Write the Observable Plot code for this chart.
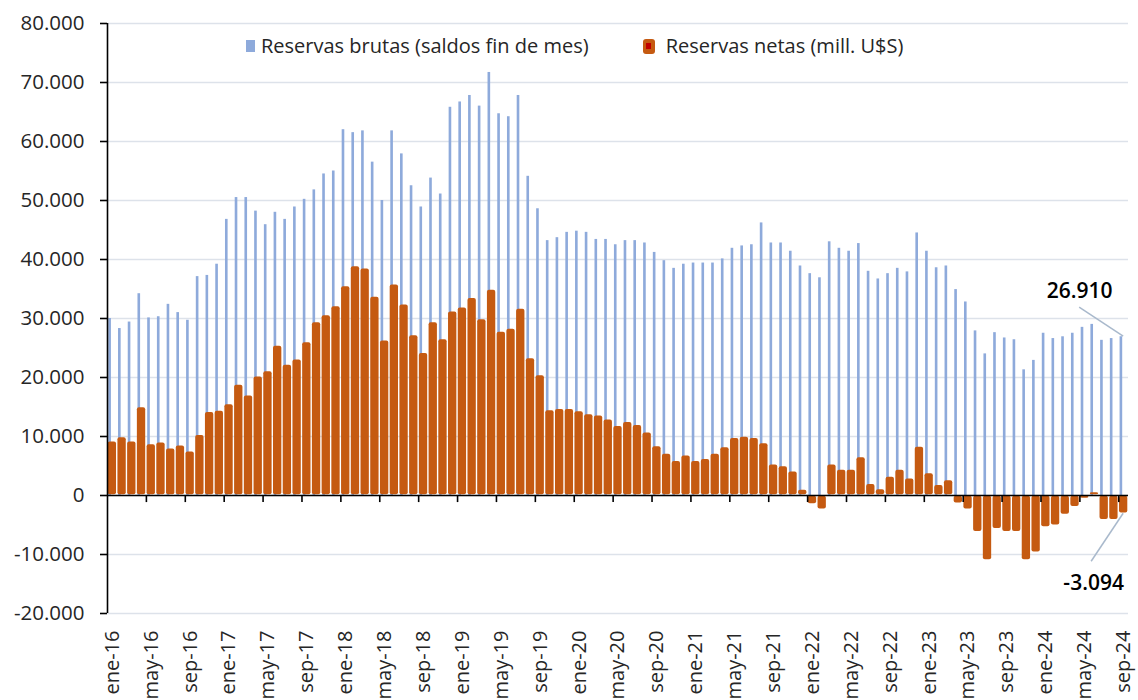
<!DOCTYPE html>
<html><head><meta charset="utf-8">
<script src="https://cdn.jsdelivr.net/npm/d3@7"></script>
<script src="https://cdn.jsdelivr.net/npm/@observablehq/plot@0.6"></script>
<style>
body{margin:0;background:#fff;font-family:"Open Sans", sans-serif;}
#wrap{position:relative;width:1138px;height:700px;overflow:hidden;}
#legend{position:absolute;top:32px;left:246px;display:flex;align-items:center;font-size:20px;color:#262626;line-height:28px;white-space:nowrap;}
.sw1{width:9px;height:12px;background:#8eaadb;margin-right:6px;}
.sw2{width:12px;height:15px;background:#c55a11;border-radius:3px;margin-right:11px;display:flex;align-items:center;justify-content:center;}
.sw2 i{display:block;width:5px;height:6px;background:#c00000;}
#l1{margin-right:54px;}
</style></head>
<body><div id="wrap"><div id="legend"><span class="sw1"></span><span id="l1"></span><span class="sw2"><i></i></span><span id="l2"></span></div></div>
<script>
const meses = ["ene","feb","mar","abr","may","jun","jul","ago","sep","oct","nov","dic"];
const anios = ["16","17","18","19","20","21","22","23","24"];
const etiquetas = anios.flatMap(a => meses.map(m => `${m}-${a}`)).slice(0, 105);
const serieBrutas = "Reservas brutas (saldos fin de mes)";
const serieNetas = "Reservas netas (mill. U$S)";
// Reservas brutas (mill. U$S)
const brutas = [
 30000,28300,29400,34200,30100,30300,32400,31000,29700,37100,37300,39200,
 46800,50500,50500,48200,45900,48000,46800,48900,50200,51800,54500,55000,
 62000,61500,61800,56500,50000,61800,57900,52500,48900,53800,51100,65800,
 66700,67800,66000,71700,64700,64200,67800,54100,48600,43200,43700,44600,
 44800,44600,43400,43400,42500,43200,43200,42800,41200,39800,38500,39200,
 39400,39400,39400,40100,41900,42300,42500,46200,42800,42800,41400,38900,
 37600,36900,43000,41900,41400,42700,38000,36700,37600,38500,37900,44500,
 41400,38600,38900,34900,32800,27900,24000,27600,26700,26400,21300,22900,
 27500,26600,26900,27500,28500,29000,26300,26600,26910
];
// Reservas netas (mill. U$S)
const netas = [
 9200,9900,9200,15000,8700,9000,8000,8500,7500,10300,14200,14400,
 15500,18800,17000,20200,21100,25400,22200,23100,26000,29400,30600,32100,
 35500,38900,38500,33700,26300,35800,32400,27200,24200,29400,26500,31200,
 31900,33500,29900,34900,27800,28300,31700,23300,20400,14500,14700,14700,
 14300,13800,13600,12900,11800,12500,12000,10700,8400,7100,5900,6800,
 5900,6200,7100,8200,9800,10000,9800,8900,5300,5000,4100,1000,
 -1500,-2400,5300,4400,4400,6500,2000,1100,3200,4400,2900,8300,
 3800,1800,2600,-1400,-2400,-6200,-11000,-5700,-6200,-6200,-11000,-9700,
 -5400,-5100,-3300,-2000,-600,600,-4200,-4200,-3094
];
const yTicks = d3.range(-20000, 80001, 10000);
const xLabels = etiquetas.filter((e, i) => i % 4 === 0);

document.getElementById("l1").textContent = serieBrutas;
document.getElementById("l2").textContent = serieNetas;

const fmt = d => (d < 0 ? "-" : "") + d3.format(",")(Math.abs(d)).replace(/,/g, ".");
const data = etiquetas.map((mes, i) => ({mes, i, bruta: brutas[i], neta: netas[i]}));
const last = [data[data.length - 1]];

const W = 1138, H = 700, mL = 107, mR = 10, mT = 23, mB = 87;
const bw = (W - mL - mR) / etiquetas.length;

const chart = Plot.plot({
  width: W, height: H, marginLeft: mL, marginRight: mR, marginTop: mT, marginBottom: mB,
  style: {fontFamily: "'Open Sans', sans-serif", fontSize: "20px", color: "#262626", background: "white", overflow: "visible"},
  x: {type: "band", domain: etiquetas, padding: 0, axis: null, label: null},
  y: {domain: [-20000, 80000], axis: null, label: null},
  marks: [
    Plot.gridY(yTicks, {stroke: "#dde2ea", strokeOpacity: 1, strokeWidth: 1.6}),
    Plot.barY(data, {x: "mes", y: "bruta", fill: "#8eaadb", insetLeft: 1.3, insetRight: 5.8}),
    Plot.barY(data, {x: "mes", y: "neta", fill: "#c55a11", inset: 0.7, rx: 2}),
    Plot.ruleY([0], {stroke: "black", strokeWidth: 1.6}),
    Plot.ruleX(data.filter(d => d.i % 4 === 0 && d.i > 0), {x: "mes", y1: 0, y2: -1200, dx: -bw / 2, stroke: "black", strokeWidth: 1.6}),
    Plot.ruleX([data[0]], {x: "mes", y1: -20000, y2: 80000, dx: -bw / 2, stroke: "black", strokeWidth: 1.6}),
    Plot.axisY(yTicks, {tickSize: 7, tickPadding: 16, tickFormat: fmt, stroke: "black", strokeWidth: 1.6, fill: "#262626", fontSize: 20.5, label: null}),
    Plot.axisX(xLabels, {anchor: "bottom", tickSize: 0, tickRotate: -90, tickPadding: 17, fontSize: 20, fill: "#262626", label: null}),
    Plot.text(last, {x: "mes", y: "bruta", text: d => fmt(d.bruta), dx: -44, dy: -45, fontSize: 21, fill: "black", fontWeight: 600}),
    Plot.text(last, {x: "mes", y: "neta", text: d => fmt(d.neta), dx: -30, dy: 70, fontSize: 21, fill: "black", fontWeight: 600})
  ]
});
document.getElementById("wrap").prepend(chart);

// leader lines for the two annotations, positioned through the chart's scales
const xs = chart.scale("x"), ys = chart.scale("y");
const cx = v => xs.apply(v) + xs.bandwidth / 2;
const svg = d3.select(chart);
const leaders = [
  {x: cx(last[0].mes), y: ys.apply(last[0].bruta), ddx: -44, ddy: -29},
  {x: cx(last[0].mes), y: ys.apply(last[0].neta), ddx: -32, ddy: 48}
];
svg.append("g").selectAll("line").data(leaders).join("line")
  .attr("x1", d => d.x).attr("y1", d => d.y)
  .attr("x2", d => d.x + d.ddx).attr("y2", d => d.y + d.ddy)
  .attr("stroke", "#a9b9cc").attr("stroke-width", 1.5);
</script>
</body></html>
